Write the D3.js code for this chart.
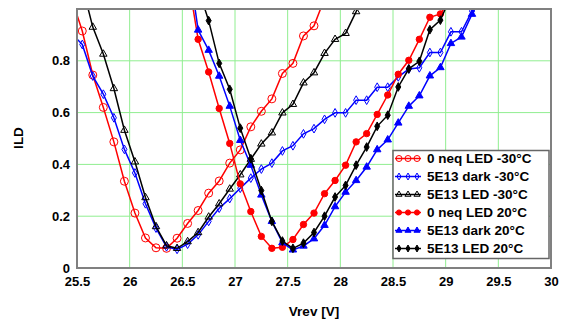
<!DOCTYPE html>
<html>
<head>
<meta charset="utf-8">
<script src="https://cdn.jsdelivr.net/npm/d3@7"></script>
<style>
  html, body { margin: 0; padding: 0; background: #fff; }
  svg { display: block; font-family: "Liberation Sans", Arial, sans-serif; }
</style>
</head>
<body>
<svg id="chart" width="563" height="320"></svg>
<script>
// common reverse-voltage grid, 0.1 V steps (null = no point at that voltage)
const vrev = [25.45, 25.55, 25.65, 25.75, 25.85, 25.95, 26.05, 26.15, 26.25, 26.35,
              26.45, 26.55, 26.65, 26.75, 26.85, 26.95, 27.05, 27.15, 27.25, 27.35,
              27.45, 27.55, 27.65, 27.75, 27.85, 27.95, 28.05, 28.15, 28.25, 28.35,
              28.45, 28.55, 28.65, 28.75, 28.85, 28.95, 29.05, 29.15, 29.25, 29.35];

const n = null;
const ildNeqLedCold = [1.04, 0.915, 0.745, 0.62, 0.487, 0.335, 0.212, 0.116, 0.078, 0.076,
  0.115, 0.172, 0.222, 0.289, 0.336, 0.405, 0.456, 0.545, 0.605, 0.653,
  0.751, 0.79, 0.896, 0.935, 1.04, n, n, n, n, n,
  n, n, n, n, n, n, n, n, n, n];
const ildDarkCold = [0.905, 0.863, 0.741, 0.671, 0.58, 0.458, 0.367, 0.248, 0.154, 0.082,
  0.072, 0.092, 0.128, 0.18, 0.231, 0.268, 0.308, 0.347, 0.382, 0.405,
  0.452, 0.472, 0.518, 0.538, 0.574, 0.599, 0.599, 0.648, 0.648, 0.698,
  0.698, 0.738, 0.768, 0.773, 0.832, 0.832, 0.912, 0.912, 0.992, 1.06];
const ildLedCold = [n, 1.09, 0.93, 0.826, 0.693, 0.532, 0.41, 0.272, 0.16, 0.086,
  0.076, 0.102, 0.137, 0.197, 0.248, 0.305, 0.36, 0.42, 0.479, 0.522,
  0.599, 0.632, 0.715, 0.754, 0.829, 0.883, 0.906, 0.99, 1.08, n,
  n, n, n, n, n, n, n, n, n, n];
const ildNeqLedWarm = [n, n, n, n, n, n, n, n, n, n,
  n, 1.13, 0.883, 0.757, 0.616, 0.481, 0.325, 0.218, 0.122, 0.076,
  0.08, 0.11, 0.168, 0.212, 0.287, 0.338, 0.397, 0.487, 0.519, 0.593,
  0.668, 0.748, 0.802, 0.883, 0.968, 0.981, 1.04, n, n, n];
const ildDarkWarm = [n, n, n, n, n, n, n, n, n, n,
  n, 1.2, 0.919, 0.841, 0.741, 0.625, 0.493, 0.397, 0.282, 0.18,
  0.098, 0.07, 0.085, 0.113, 0.165, 0.237, 0.293, 0.338, 0.39, 0.457,
  0.495, 0.56, 0.625, 0.665, 0.742, 0.774, 0.867, 0.892, 0.98, 1.06];
const ildLedWarm = [n, n, n, n, n, n, n, n, n, n,
  n, n, 1.08, 0.955, 0.79, 0.69, 0.54, 0.422, 0.299, 0.18,
  0.104, 0.076, 0.096, 0.137, 0.2, 0.274, 0.319, 0.397, 0.467, 0.547,
  0.59, 0.699, 0.769, 0.798, 0.92, 0.957, 1.05, n, n, n];

const seriesNames = ["0 neq LED -30°C", "5E13 dark -30°C", "5E13 LED -30°C",
                     "0 neq LED 20°C", "5E13 dark 20°C", "5E13 LED 20°C"];
const seriesValues = [ildNeqLedCold, ildDarkCold, ildLedCold, ildNeqLedWarm, ildDarkWarm, ildLedWarm];

const xTicks = [25.5, 26, 26.5, 27, 27.5, 28, 28.5, 29, 29.5, 30];
const yTicks = [0, 0.2, 0.4, 0.6, 0.8];

/* styles per series */
const styleOf = [
  { color: "#ff0000", shape: "circle", filled: false },
  { color: "#0000ff", shape: "diamond", filled: false },
  { color: "#000000", shape: "triangle", filled: false },
  { color: "#ff0000", shape: "circle", filled: true },
  { color: "#0000ff", shape: "triangle", filled: true },
  { color: "#000000", shape: "diamond", filled: true }
];

const svg = d3.select("#chart");
const plotL = 77, plotR = 551, plotT = 9, plotB = 268;

const x = d3.scaleLinear().domain([25.5, 30]).range([plotL, plotR]);
const y = d3.scaleLinear().domain([0, 1]).range([plotB, plotT]);

svg.append("defs").append("clipPath").attr("id", "plotclip")
  .append("rect")
  .attr("x", plotL).attr("y", plotT)
  .attr("width", plotR - plotL).attr("height", plotB - plotT);

// grid
const grid = svg.append("g").attr("stroke", "#90ee90").attr("stroke-width", 1);
grid.selectAll("line.v")
  .data(xTicks.slice(1, -1))
  .join("line")
  .attr("class", "v")
  .attr("x1", d => x(d)).attr("x2", d => x(d))
  .attr("y1", plotT).attr("y2", plotB);
grid.selectAll("line.h")
  .data(yTicks.slice(1))
  .join("line")
  .attr("class", "h")
  .attr("x1", plotL).attr("x2", plotR)
  .attr("y1", d => y(d)).attr("y2", d => y(d));

// axes (labels only)
const xAxis = svg.append("g")
  .attr("transform", `translate(0,${plotB})`)
  .call(d3.axisBottom(x).tickValues(xTicks).tickSize(0).tickPadding(9).tickFormat(d3.format("~g")));
const yAxis = svg.append("g")
  .attr("transform", `translate(${plotL},0)`)
  .call(d3.axisLeft(y).tickValues(yTicks).tickSize(0).tickPadding(7)
    .tickFormat(d => d === 0 ? "0" : d3.format(".1f")(d)));
[xAxis, yAxis].forEach(a => {
  a.select(".domain").remove();
  a.selectAll("text")
    .attr("font-family", "'Liberation Sans', Arial, sans-serif")
    .attr("font-size", 13).attr("font-weight", "bold").attr("fill", "#000");
});

const symbolPath = (shape, small) => {
  if (shape === "triangle") return d3.symbol(d3.symbolTriangle, small ? 16 : 24)();
  if (shape === "diamond") return d3.symbol(d3.symbolDiamond, small ? 14 : 22)();
  return null;
};

const drawMarker = (g, st, cx, cy, small) => {
  const fill = st.filled ? st.color : "none";
  if (st.shape === "circle") {
    g.append("circle")
      .attr("cx", cx).attr("cy", cy)
      .attr("r", st.filled ? (small ? 2.6 : 3.2) : (small ? 3 : 4))
      .attr("fill", fill).attr("stroke", st.color).attr("stroke-width", 1);
  } else {
    g.append("path")
      .attr("d", symbolPath(st.shape, small))
      .attr("transform", `translate(${cx},${cy})`)
      .attr("fill", fill).attr("stroke", st.color).attr("stroke-width", 1);
  }
};

// series
const plot = svg.append("g").attr("clip-path", "url(#plotclip)");
const line = d3.line()
  .defined(d => d[1] !== null)
  .x(d => x(d[0]))
  .y(d => y(d[1]));

seriesValues.forEach((vals, i) => {
  const st = styleOf[i];
  const pts = vrev.map((v, k) => [v, vals[k]]);
  plot.append("path")
    .datum(pts)
    .attr("d", line)
    .attr("fill", "none")
    .attr("stroke", st.color)
    .attr("stroke-width", 1.5);
  const mg = plot.append("g");
  pts.filter(p => p[1] !== null).forEach(p => drawMarker(mg, st, x(p[0]), y(p[1]), false));
});

// frame
svg.append("rect")
  .attr("x", plotL).attr("y", plotT)
  .attr("width", plotR - plotL).attr("height", plotB - plotT)
  .attr("fill", "none").attr("stroke", "#808080").attr("stroke-width", 2);

// legend
const legend = svg.append("g");
legend.append("rect")
  .attr("x", 393).attr("y", 150.5).attr("width", 156).attr("height", 108)
  .attr("fill", "#fff").attr("stroke", "#666").attr("stroke-width", 1.5);
seriesNames.forEach((name, i) => {
  const st = styleOf[i];
  const cy = 158.5 + i * 18;
  legend.append("line")
    .attr("x1", 395).attr("x2", 421).attr("y1", cy).attr("y2", cy)
    .attr("stroke", st.color).attr("stroke-width", 1.5);
  [399, 408, 417].forEach(cx => drawMarker(legend, st, cx, cy, true));
  legend.append("text")
    .attr("x", 427).attr("y", cy)
    .attr("dy", "0.36em")
    .attr("font-size", 13.5).attr("font-weight", "bold")
    .text(name);
});

// axis titles
svg.append("text")
  .attr("x", 314).attr("y", 316)
  .attr("text-anchor", "middle")
  .attr("font-size", 13.5).attr("font-weight", "bold")
  .text("Vrev [V]");
svg.append("text")
  .attr("transform", "translate(23,138) rotate(-90)")
  .attr("text-anchor", "middle")
  .attr("font-size", 13.5).attr("font-weight", "bold")
  .text("ILD");
</script>
</body>
</html>
